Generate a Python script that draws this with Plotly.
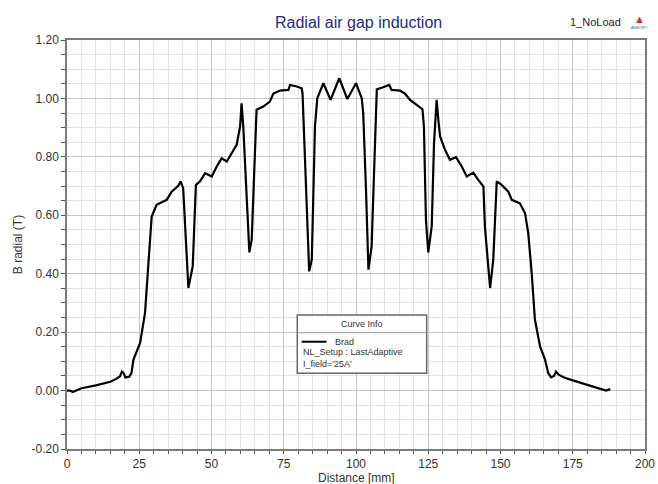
import plotly.graph_objects as go

# Data (Distance in mm, B radial in T)
distance_mm = [0, 1, 2, 3, 5, 10, 15, 17, 18.3, 19.0, 19.6, 20.2, 21.5, 22.3, 23.0,
               25.3, 27.0, 28.1, 29.3, 31.0, 34.5, 36.2, 38.5, 39.3, 40.2, 42.0, 43.5,
               44.6, 46.0, 47.8, 50.1, 51.8, 53.5, 55.3, 57.5, 58.7, 59.9, 60.4, 61.0,
               61.6, 63.1, 63.9, 65.6, 67.9, 70.2, 71.4, 73.7, 76.6, 77.2, 79.5, 81.2,
               81.5, 82.4, 83.8, 84.7, 85.8, 86.6, 88.7, 91.2, 94.2, 97.0, 100.0, 102.0,
               102.5, 103.5, 104.3, 105.4, 106.6, 107.2, 109.4, 111.5, 112.3, 115.2,
               116.9, 118.7, 121.0, 123.0, 123.5, 124.2, 125.0, 126.2, 127.0, 127.9,
               128.5, 129.1, 130.8, 132.5, 134.6, 136.6, 138.3, 140.6, 142.3, 144.1,
               144.6, 146.4, 147.5, 148.7, 150.4, 152.7, 153.9, 156.7, 158.5, 159.6,
               160.8, 161.9, 163.7, 165.4, 166.5, 167.5, 168.5, 169.2, 170.0, 172.0,
               175.0, 180.0, 185.0, 186.5, 188.0]
b_radial_T = [0.000, 0.000, -0.005, 0.000, 0.008, 0.018, 0.030, 0.040, 0.048, 0.065, 0.060,
              0.045, 0.047, 0.060, 0.106,
              0.163, 0.266, 0.425, 0.596, 0.636, 0.653, 0.681, 0.701, 0.716, 0.693, 0.351,
              0.425, 0.704, 0.716, 0.744, 0.733, 0.767, 0.795, 0.784, 0.818, 0.841, 0.904,
              0.983, 0.904, 0.767, 0.473, 0.516, 0.961, 0.972, 0.989, 1.017, 1.027, 1.029,
              1.046, 1.041, 1.035, 1.017, 0.790, 0.408, 0.448, 0.904, 1.000, 1.052, 0.995,
              1.069, 0.998, 1.052, 1.000, 0.949, 0.675, 0.414, 0.493, 0.904, 1.031, 1.038,
              1.046, 1.029, 1.027, 1.017, 0.995, 0.978, 0.963, 0.904, 0.585, 0.473, 0.562,
              0.847, 0.995, 0.926, 0.870, 0.824, 0.790, 0.799, 0.767, 0.733, 0.746, 0.721,
              0.698, 0.562, 0.351, 0.448, 0.716, 0.704, 0.681, 0.653, 0.641, 0.607, 0.539,
              0.402, 0.243, 0.151, 0.106, 0.060, 0.045, 0.050, 0.065, 0.055, 0.045, 0.035,
              0.020, 0.005, 0.000, 0.005]

x_ticks = [0, 25, 50, 75, 100, 125, 150, 175, 200]
y_ticks = [-0.20, 0.00, 0.20, 0.40, 0.60, 0.80, 1.00, 1.20]

FONT = "Arial, Liberation Sans, sans-serif"

fig = go.Figure()
fig.add_trace(go.Scatter(x=distance_mm, y=b_radial_T, mode="lines", name="Brad",
                         line=dict(color="black", width=2.2), showlegend=False))

axis_common = dict(
    showline=True, linecolor="#7a7a7a", linewidth=1.5, mirror=True,
    gridcolor="#c6c6c6", gridwidth=1, zeroline=False, automargin=False,
    ticks="outside", tickcolor="#555", tickwidth=1,
    tickfont=dict(family=FONT, size=12, color="#333"),
)

fig.update_xaxes(range=[0, 200], tickvals=x_ticks, ticklen=3,
                 ticktext=[str(v) for v in x_ticks],
                 minor=dict(dtick=5, showgrid=True, gridcolor="#e3e3e3",
                            ticks="outside", ticklen=3, tickcolor="#555"),
                 **axis_common)
fig.update_yaxes(range=[-0.2, 1.2], tickvals=y_ticks, ticklen=4,
                 ticktext=[f"{v:.2f}" for v in y_ticks],
                 minor=dict(dtick=0.05, showgrid=True, gridcolor="#e3e3e3",
                            ticks="outside", ticklen=4, tickcolor="#555"),
                 title=dict(text="B radial (T)", standoff=6,
                            font=dict(family=FONT, size=12, color="#333")),
                 **axis_common)

# X axis title placed just under the tick labels
fig.add_annotation(xref="paper", yref="paper", x=0.5, y=-0.0709, text="Distance [mm]",
                   showarrow=False, xanchor="center", yanchor="middle", borderpad=0,
                   font=dict(family=FONT, size=12, color="#333"))

# Legend box ("Curve Info")
bx0, bx1, by0, by1 = 0.3984, 0.6223, 0.1851, 0.3276
fig.add_shape(type="rect", xref="paper", yref="paper", x0=bx0, x1=bx1, y0=by0, y1=by1,
              line=dict(color="#666", width=1.5), fillcolor="white", layer="above")
fig.add_shape(type="line", xref="paper", yref="paper", x0=bx0, x1=bx1, y0=0.2844, y1=0.2844,
              line=dict(color="#999", width=1), layer="above")
fig.add_shape(type="line", xref="paper", yref="paper", x0=0.406, x1=0.449, y0=0.2623, y1=0.2623,
              line=dict(color="black", width=2), layer="above")
legend_font = dict(family=FONT, size=9, color="#333")
fig.add_annotation(xref="paper", yref="paper", x=0.510, y=0.3056, text="Curve Info",
                   showarrow=False, xanchor="center", yanchor="middle", font=legend_font)
fig.add_annotation(xref="paper", yref="paper", x=0.460, y=0.2623, text="Brad",
                   showarrow=False, xanchor="left", yanchor="middle", font=legend_font)
fig.add_annotation(xref="paper", yref="paper", x=0.4066, y=0.236, text="NL_Setup : LastAdaptive",
                   showarrow=False, xanchor="left", yanchor="middle", font=legend_font,
                   borderpad=0)
fig.add_annotation(xref="paper", yref="paper", x=0.4066, y=0.209, text="I_field='25A'",
                   showarrow=False, xanchor="left", yanchor="middle", font=legend_font,
                   borderpad=0)

# Top-right labels
fig.add_annotation(xref="paper", yref="paper", x=0.962, y=1.045, text="1_NoLoad",
                   showarrow=False, xanchor="right", yanchor="middle",
                   font=dict(family=FONT, size=11, color="#222"))
fig.add_annotation(xref="paper", yref="paper", x=0.99, y=1.052, text="▲",
                   showarrow=False, xanchor="center", yanchor="middle",
                   font=dict(family=FONT, size=11, color="#d03030"))
fig.add_annotation(xref="paper", yref="paper", x=0.99, y=1.03, text="ANSOFT",
                   showarrow=False, xanchor="center", yanchor="middle",
                   font=dict(family=FONT, size=4, color="#555"))

fig.update_layout(
    width=658, height=484,
    margin=dict(l=67, r=13, t=40, b=35),
    paper_bgcolor="white", plot_bgcolor="white",
    title=dict(text="Radial air gap induction", x=0.545, xanchor="center",
               y=1 - 22 / 484, yanchor="middle",
               font=dict(family=FONT, size=16, color="#1f2a80")),
    font=dict(family=FONT),
)

fig.write_html("out.html")
